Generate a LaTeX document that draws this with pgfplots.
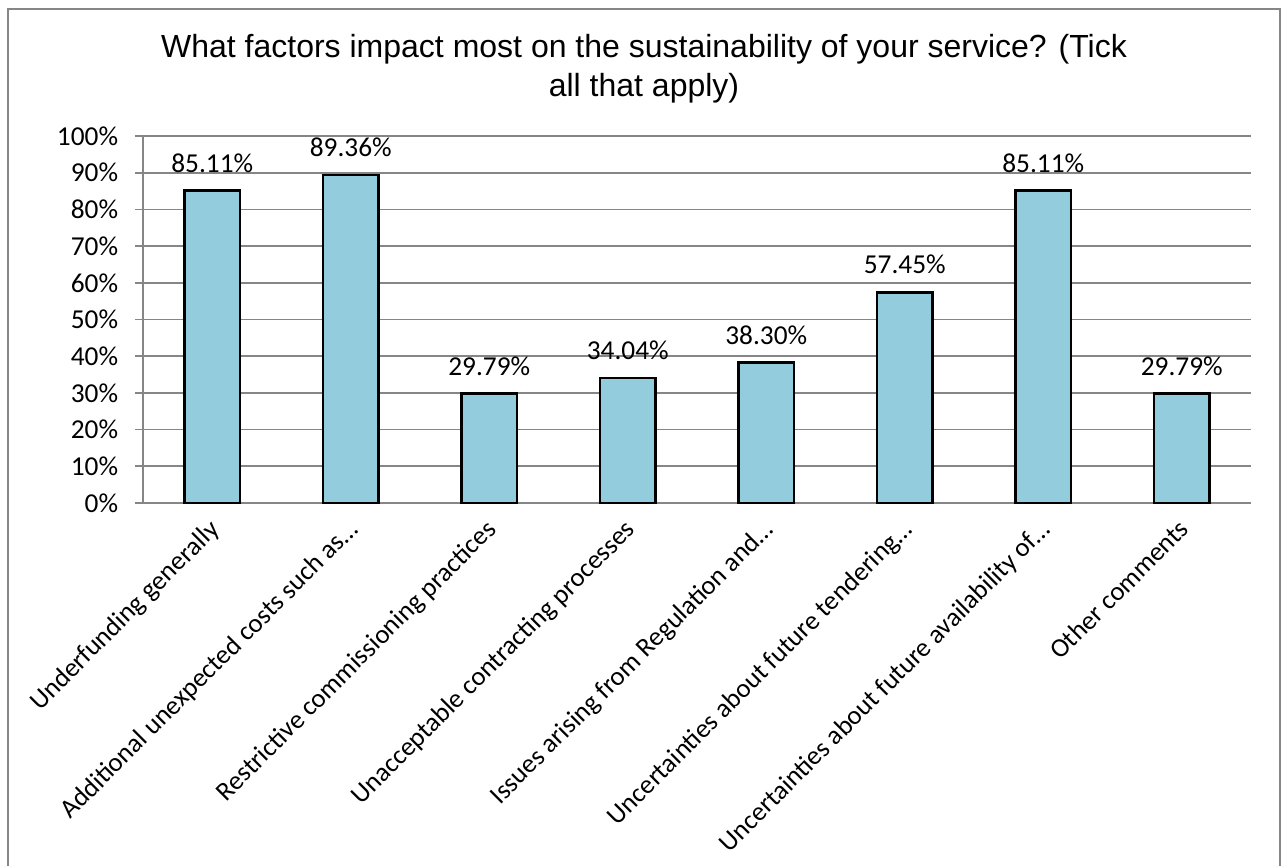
\documentclass[border=0pt]{standalone}
\usepackage{pgfplots}
\pgfplotsset{compat=1.18}
\usepackage{fontspec}
\setmainfont{Carlito}
\newfontfamily\titlefont{Liberation Sans}
\definecolor{barfill}{HTML}{93CDDD}
\definecolor{gridgray}{HTML}{868686}
\begin{document}
\begin{tikzpicture}[x=0.75pt,y=-0.75pt]
\path[use as bounding box] (0,0) rectangle (1282,865);
\draw[gridgray, line width=1.5pt] (8,870) -- (8,9) -- (1280,9) -- (1280,870);
\node[anchor=base, font=\titlefont\fontsize{24}{28}\selectfont, inner sep=0pt] at (644,57.5) {What factors impact most on the sustainability of your service? (Tick};
\node[anchor=base, font=\titlefont\fontsize{24}{28}\selectfont, inner sep=0pt] at (644,96) {all that apply)};
\begin{axis}[
  at={(107.25pt,-377.25pt)}, anchor=south west,
  scale only axis, width=831pt, height=275.25pt,
  xmin=-0.5, xmax=7.5, ymin=0, ymax=100,
  axis x line*=bottom, axis y line*=left,
  axis line style={gridgray, line width=1.3pt},
  every outer x axis line/.append style={-}, every outer y axis line/.append style={-},
  ytick={0,10,...,100},
  yticklabel={\pgfmathprintnumber{\tick}\%},
  yticklabel style={font=\fontsize{20.5}{23}\selectfont, inner sep=0pt, xshift=-12.5pt},
  /pgf/number format/assume math mode=true,
  ymajorgrids, major grid style={gridgray, line width=1.3pt},
  major tick length=6pt, tick align=outside,
  ytick style={gridgray, line width=1.3pt},
  xtick={0,...,7},
  xticklabels={Underfunding generally, Additional unexpected costs such as…, Restrictive commissioning practices, Unacceptable contracting processes, Issues arising from Regulation and…, Uncertainties about future tendering…, Uncertainties about future availability of…, Other comments},
  xticklabel style={font=\fontsize{20}{23}\selectfont, rotate=45, anchor=north east, inner sep=0pt, xshift=-6pt, yshift=-1pt},
  xtick style={draw=none},
  minor xtick={-0.5,0.5,...,7.5},
  minor tick length=6pt,
  minor x tick style={gridgray, line width=1.3pt},
  ybar, bar width=0.4,
  nodes near coords={\pgfmathprintnumber[fixed,fixed zerofill,precision=2]{\pgfplotspointmeta}\%},
  nodes near coords style={font=\fontsize{20.5}{23}\selectfont, inner sep=0pt, anchor=south, yshift=12.5pt},
  clip=false,
]
\addplot[fill=barfill, draw=black, line width=2pt] coordinates {
  (0,85.11) (1,89.36) (2,29.79) (3,34.04) (4,38.30) (5,57.45) (6,85.11) (7,29.79)
};
\end{axis}
\end{tikzpicture}
\end{document}
